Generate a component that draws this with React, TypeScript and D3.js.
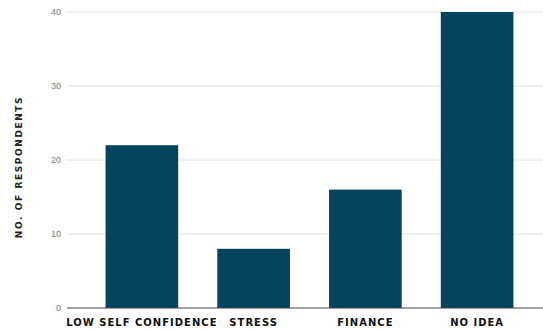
import React from "react";
import * as d3 from "d3";

const categories = ["LOW SELF CONFIDENCE", "STRESS", "FINANCE", "NO IDEA"];
const values = [22, 8, 16, 40];
const yTicks = [0, 10, 20, 30, 40];
const yTitle = "NO. OF RESPONDENTS";

export default function App() {
  const W = 543, H = 331;
  const left = 67, right = 543, top = 12, bottom = 308;
  const x = d3.scaleBand<string>().domain(categories).range([86, 533]).paddingInner(0.35).paddingOuter(0.175);
  const y = d3.scaleLinear().domain([0, 40]).range([bottom, top]);
  const font = "'Liberation Sans', Arial, sans-serif";
  const bold = "'DejaVu Sans', sans-serif";
  return (
    <svg width={W} height={H} style={{ position: "absolute", left: 0, top: 0, background: "#fff" }}>
      {yTicks.map((t) => (
        <g key={t}>
          {t !== 0 && <line x1={left} x2={right} y1={y(t)} y2={y(t)} stroke="#e0e0e0" strokeWidth={1} />}
          <text x={61} y={y(t)} dy="0.35em" textAnchor="end" fontSize={9} fill="#777" fontFamily={font}>{t}</text>
        </g>
      ))}
      {categories.map((c, i) => (
        <rect key={c} x={x(c)!} y={y(values[i])} width={x.bandwidth()} height={y(0) - y(values[i])} fill="#04445f" />
      ))}
      <line x1={left} x2={right} y1={y(0)} y2={y(0)} stroke="#444" strokeWidth={1} />
      {categories.map((c) => (
        <text key={c} x={x(c)! + x.bandwidth() / 2} y={322} dy="0.35em" textAnchor="middle" fontSize={10} fontWeight="bold" fill="#111" fontFamily={bold} letterSpacing={1.0}>{c}</text>
      ))}
      <text transform={`translate(19,${167}) rotate(-90)`} dy="0.35em" textAnchor="middle" fontSize={9} fontWeight="bold" fill="#222" fontFamily={bold} letterSpacing={1.6}>{yTitle}</text>
    </svg>
  );
}
